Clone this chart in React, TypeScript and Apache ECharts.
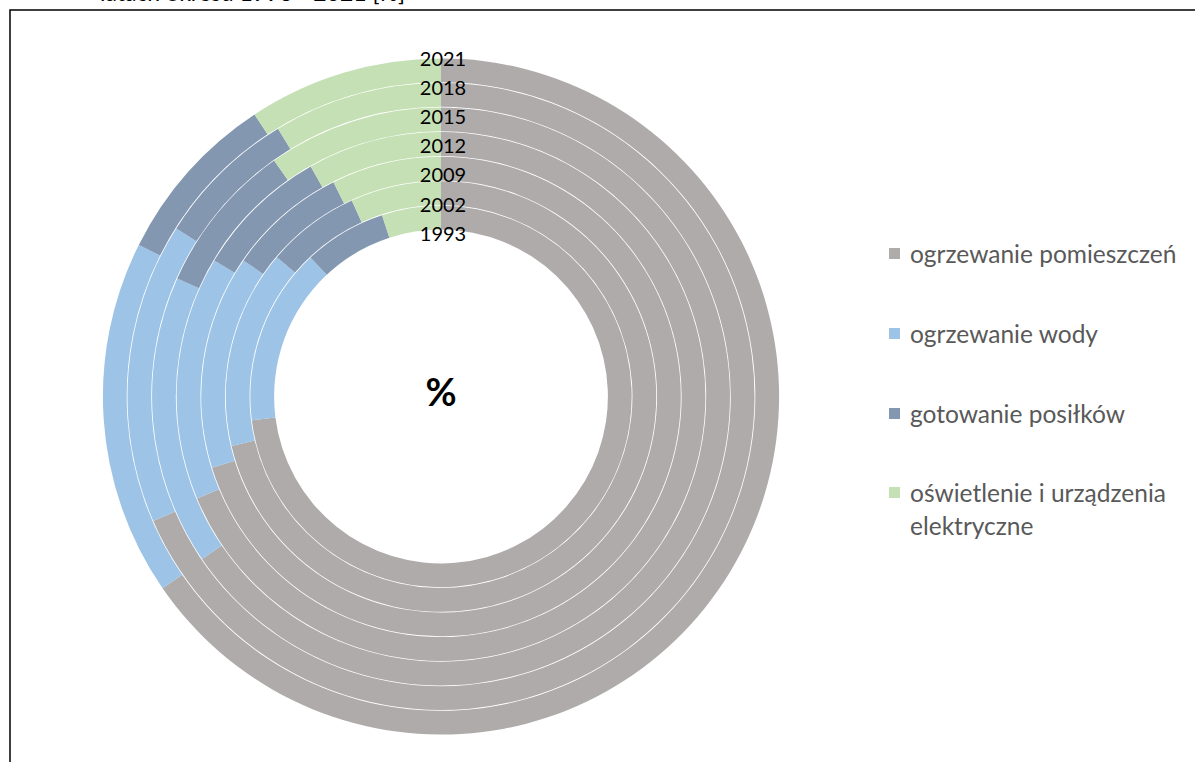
import React, { useEffect, useRef } from "react";
import * as echarts from "echarts";

const years = ["1993", "2002", "2009", "2012", "2015", "2018", "2021"];
const categories = [
  "ogrzewanie pomieszczeń",
  "ogrzewanie wody",
  "gotowanie posiłków",
  "oświetlenie i urządzenia elektryczne",
];
const spaceHeating = [73.0, 71.3, 70.2, 68.7, 65.5, 68.5, 65.4];
const waterHeating = [15.0, 14.9, 14.4, 14.9, 16.2, 15.5, 17.0];
const cooking = [7.0, 7.0, 8.0, 8.2, 8.5, 7.3, 8.3];
const lighting = [5.0, 6.8, 7.4, 8.2, 9.8, 8.7, 9.3];

const colors = ["#AFABAB", "#9DC3E6", "#8497B0", "#C5E0B4"];
const FONT = "Lato, 'Open Sans', sans-serif";

export default function App() {
  const ref = useRef<HTMLDivElement>(null);
  useEffect(() => {
    document.body.style.margin = "0";
    const chart = echarts.init(ref.current!, null, { renderer: "svg" });
    const cx = 441;
    const cy = 396.5;
    const r0 = 166.5;
    const rw = 24.57;
    const series = years.map((y, k) => ({
      type: "pie",
      name: y,
      center: [cx, cy],
      radius: [r0 + rw * k + 0.4, r0 + rw * (k + 1) - 0.4],
      startAngle: 90,
      clockwise: true,
      silent: true,
      label: { show: false },
      labelLine: { show: false },
      emphasis: { disabled: true },
      itemStyle: { borderWidth: 0 },
      data: [
        { name: categories[0], value: spaceHeating[k] },
        { name: categories[1], value: waterHeating[k] },
        { name: categories[2], value: cooking[k] },
        { name: categories[3], value: lighting[k] },
      ],
    }));
    const yearTexts = years
      .slice()
      .reverse()
      .map((y, i) => ({
        type: "text",
        x: 443,
        y: 58 + i * 29.1,
        z: 100,
        style: {
          text: y,
          font: `20px ${FONT}`,
          fill: "#000",
          align: "center",
          verticalAlign: "middle",
        },
      }));
    const legendText = {
      fontFamily: FONT,
      fontSize: 24.5,
      color: "#595959",
      lineHeight: 31,
      padding: [0, 0, 0, 5],
    };
    chart.setOption({
      animation: false,
      color: colors,
      legend: [
        {
          orient: "vertical",
          left: 884,
          top: 233,
          itemWidth: 11,
          itemHeight: 11,
          itemGap: 49,
          icon: "rect",
          selectedMode: false,
          data: categories.slice(0, 3),
          textStyle: legendText,
        },
        {
          orient: "vertical",
          left: 884,
          top: 438,
          itemWidth: 11,
          itemHeight: 11,
          icon: "rect",
          selectedMode: false,
          data: [categories[3]],
          formatter: () => " \noświetlenie i urządzenia\nelektryczne",
          textStyle: { ...legendText, lineHeight: 33 },
        },
      ],
      series,
      graphic: [
        {
          type: "rect",
          shape: { x: 10, y: 10, width: 1200, height: 800 },
          style: { fill: "none", stroke: "#000", lineWidth: 1.5 },
        },
        {
          type: "text",
          x: 100,
          y: 3,
          style: {
            text: "latach okresu 1993 - 2021 [%]",
            font: `23px ${FONT}`,
            fill: "#000",
            verticalAlign: "bottom",
          },
        },
        {
          type: "text",
          x: cx,
          y: 391,
          style: {
            text: "%",
            font: `bold 38px ${FONT}`,
            fill: "#000",
            align: "center",
            verticalAlign: "middle",
          },
        },
        ...yearTexts,
      ],
    });
    return () => chart.dispose();
  }, []);
  return <div ref={ref} style={{ width: 1195, height: 762 }} />;
}
